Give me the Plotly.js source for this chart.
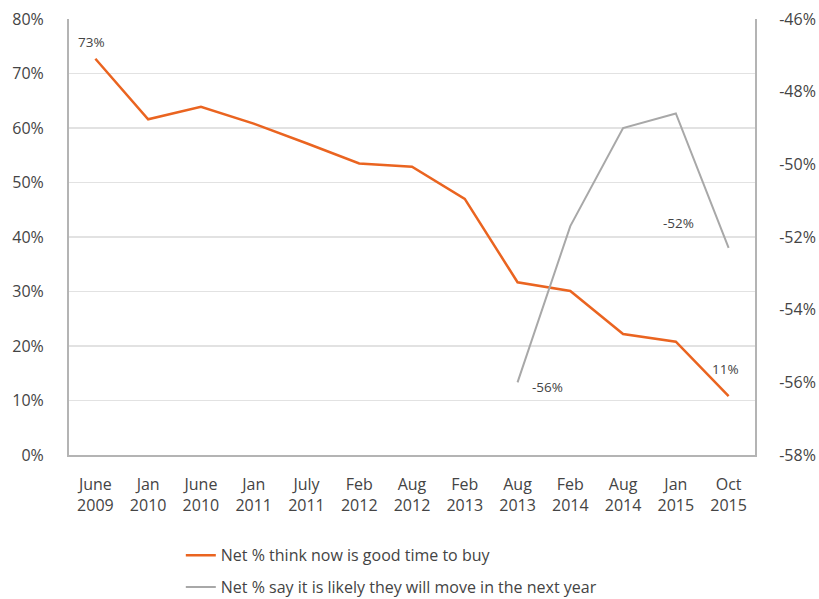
<!DOCTYPE html>
<html>
<head>
<meta charset="utf-8">
<script src="https://cdn.plot.ly/plotly-3.0.1.min.js"></script>
<style>
  html, body { margin: 0; padding: 0; background: #fff; }
  #chart { width: 819px; height: 599px; }
</style>
</head>
<body>
<div id="chart"></div>
<script>
// Survey periods along the horizontal axis
const periods = [
  'June<br>2009', 'Jan<br>2010', 'June<br>2010', 'Jan<br>2011', 'July<br>2011',
  'Feb<br>2012', 'Aug<br>2012', 'Feb<br>2013', 'Aug<br>2013', 'Feb<br>2014',
  'Aug<br>2014', 'Jan<br>2015', 'Oct<br>2015'
];

// Net % who think now is a good time to buy (left axis)
const goodTimeToBuy = [72.7, 61.6, 63.9, 60.8, 57.2, 53.5, 52.9, 47.0, 31.7, 30.1, 22.2, 20.8, 10.8];

// Net % who say it is likely they will move in the next year (right axis)
const likelyToMove = [null, null, null, null, null, null, null, null, -56.0, -51.7, -49.0, -48.6, -52.3];

const buyName = 'Net % think now is good time to buy';
const moveName = 'Net % say it is likely they will move in the next year';

const leftTicks = [0, 10, 20, 30, 40, 50, 60, 70, 80];
const rightTicks = [-58, -56, -54, -52, -50, -48, -46];

const orange = '#ea6420';
const grey = '#a8a8a8';
const textColor = '#444444';
const font = 'Open Sans, Lato, sans-serif';

const traces = [
  {
    x: periods, y: goodTimeToBuy, name: buyName, type: 'scatter', mode: 'lines',
    line: { color: orange, width: 2.5 }, legendgroup: 'a', yaxis: 'y'
  },
  {
    x: periods, y: likelyToMove, name: moveName, type: 'scatter', mode: 'lines',
    line: { color: grey, width: 2 }, legendgroup: 'b', yaxis: 'y2',
    connectgaps: false
  }
];

// Value labels on selected points
function pct(v) { return Math.round(v) + '%'; }
const last = periods.length - 1;
const firstMove = likelyToMove.findIndex(v => v !== null);
const annotations = [
  { x: periods[0], y: goodTimeToBuy[0], yref: 'y', text: pct(goodTimeToBuy[0]), xshift: -4, yshift: 17 },
  { x: periods[last], y: goodTimeToBuy[last], yref: 'y', text: pct(goodTimeToBuy[last]), xshift: -3, yshift: 27 },
  { x: periods[firstMove], y: likelyToMove[firstMove], yref: 'y2', text: pct(likelyToMove[firstMove]), xshift: 30, yshift: -5 },
  { x: periods[last], y: likelyToMove[last], yref: 'y2', text: pct(likelyToMove[last]), xshift: -50, yshift: 25 }
].map(a => Object.assign({
  xref: 'x', showarrow: false,
  font: { family: font, size: 13.5, color: textColor }
}, a));

const layout = {
  width: 819, height: 599,
  margin: { l: 69, r: 64, t: 19, b: 144, autoexpand: false },
  paper_bgcolor: '#ffffff', plot_bgcolor: '#ffffff',
  font: { family: font, size: 16, color: textColor },
  showlegend: true,
  legend: {
    orientation: 'v', x: 0.163, xanchor: 'left', y: -0.191, yanchor: 'top',
    font: { family: font, size: 16, color: textColor },
    traceorder: 'grouped', tracegroupgap: 8, bgcolor: 'rgba(0,0,0,0)'
  },
  xaxis: {
    type: 'category', range: [-0.5, periods.length - 0.5],
    showgrid: false, zeroline: false,
    showline: true, linecolor: '#b4b4b4', linewidth: 2,
    ticks: '', ticklabelstandoff: 14,
    tickfont: { family: font, size: 16, color: textColor }
  },
  yaxis: {
    range: [0, 80], tickvals: leftTicks, ticktext: leftTicks.map(v => v + '%'),
    showgrid: true, gridcolor: '#e2e2e2', gridwidth: 1.5, zeroline: false,
    showline: true, linecolor: '#b4b4b4', linewidth: 2,
    ticks: '', ticklabelstandoff: 20,
    tickfont: { family: font, size: 16, color: textColor }
  },
  yaxis2: {
    range: [-58, -46], tickvals: rightTicks, ticktext: rightTicks.map(v => v + '%'),
    overlaying: 'y', side: 'right', showgrid: false, zeroline: false,
    showline: true, linecolor: '#b4b4b4', linewidth: 2,
    ticks: '', ticklabelstandoff: 19,
    tickfont: { family: font, size: 16, color: textColor }
  },
  annotations: annotations
};

Plotly.newPlot('chart', traces, layout, { displayModeBar: false, staticPlot: true });
</script>
</body>
</html>
